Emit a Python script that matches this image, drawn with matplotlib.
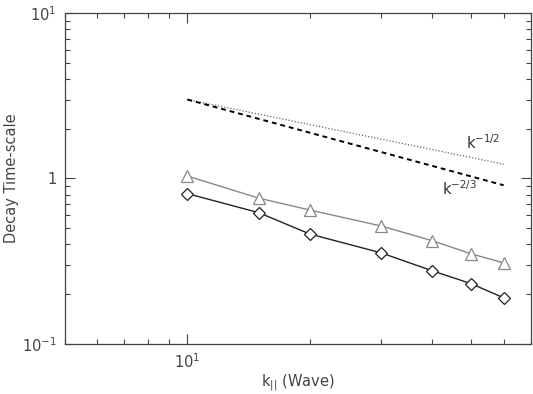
import numpy as np
import matplotlib.pyplot as plt

# data
k_wave = [10, 15, 20, 30, 40, 50, 60]
tau_tri = [1.035, 0.76, 0.645, 0.516, 0.421, 0.35, 0.309]
tau_dia = [0.81, 0.621, 0.462, 0.355, 0.277, 0.231, 0.19]

# reference slopes (end points, straight on log-log)
ref_k = [10, 60]
ref_half = [3.0, 1.22]
ref_twothirds = [3.0, 0.91]

axcol = '#444444'
plt.rcParams['font.family'] = 'DejaVu Sans'

fig = plt.figure(figsize=(5.33, 3.94), dpi=100)
ax = fig.add_axes([0.122, 0.127, 0.874, 0.840])

ax.plot(ref_k, ref_half, linestyle=(0, (1, 1.5)), color='#666666', linewidth=0.9)
ax.plot(ref_k, ref_twothirds, linestyle=(0, (2.5, 2)), color='black', linewidth=1.4)

ax.plot(k_wave, tau_tri, color='#888888', linewidth=1.0, marker='^',
        markersize=9, markerfacecolor='white', markeredgecolor='#888888', markeredgewidth=0.9)
ax.plot(k_wave, tau_dia, color='#222222', linewidth=1.0, marker='D',
        markersize=6.5, markerfacecolor='white', markeredgecolor='#222222', markeredgewidth=0.9)

ax.text(48.5, 1.5, r'k$^{-1/2}$', color='#333333', fontsize=10.5)
ax.text(42.3, 0.79, r'k$^{-2/3}$', color='#333333', fontsize=10.5)

ax.set_xscale('log')
ax.set_yscale('log')
ax.set_xlim(5, 70)
ax.set_ylim(0.1, 10)

ax.set_yticks([0.1, 1, 10])
ax.set_yticklabels([r'10$^{-1}$', '1', r'10$^{1}$'])
ax.set_xticks([10])
ax.set_xticklabels([r'10$^{1}$'])

ax.tick_params(which='both', direction='in', top=True, right=True, colors=axcol,
               labelcolor='#444444', labelsize=10.5)
ax.tick_params(which='major', length=7, width=0.8, pad=6)
ax.tick_params(which='minor', length=3.5, width=0.8)
ax.xaxis.set_minor_formatter(plt.NullFormatter())
ax.yaxis.set_minor_formatter(plt.NullFormatter())
for s in ax.spines.values():
    s.set_color(axcol)
    s.set_linewidth(0.9)

ax.set_xlabel(r'k$_{||}$ (Wave)', color='#444444', fontsize=10.5, labelpad=1)
ax.set_ylabel('Decay Time-scale', color='#444444', fontsize=10.5, labelpad=2)

fig.savefig('out.png', dpi=100)
